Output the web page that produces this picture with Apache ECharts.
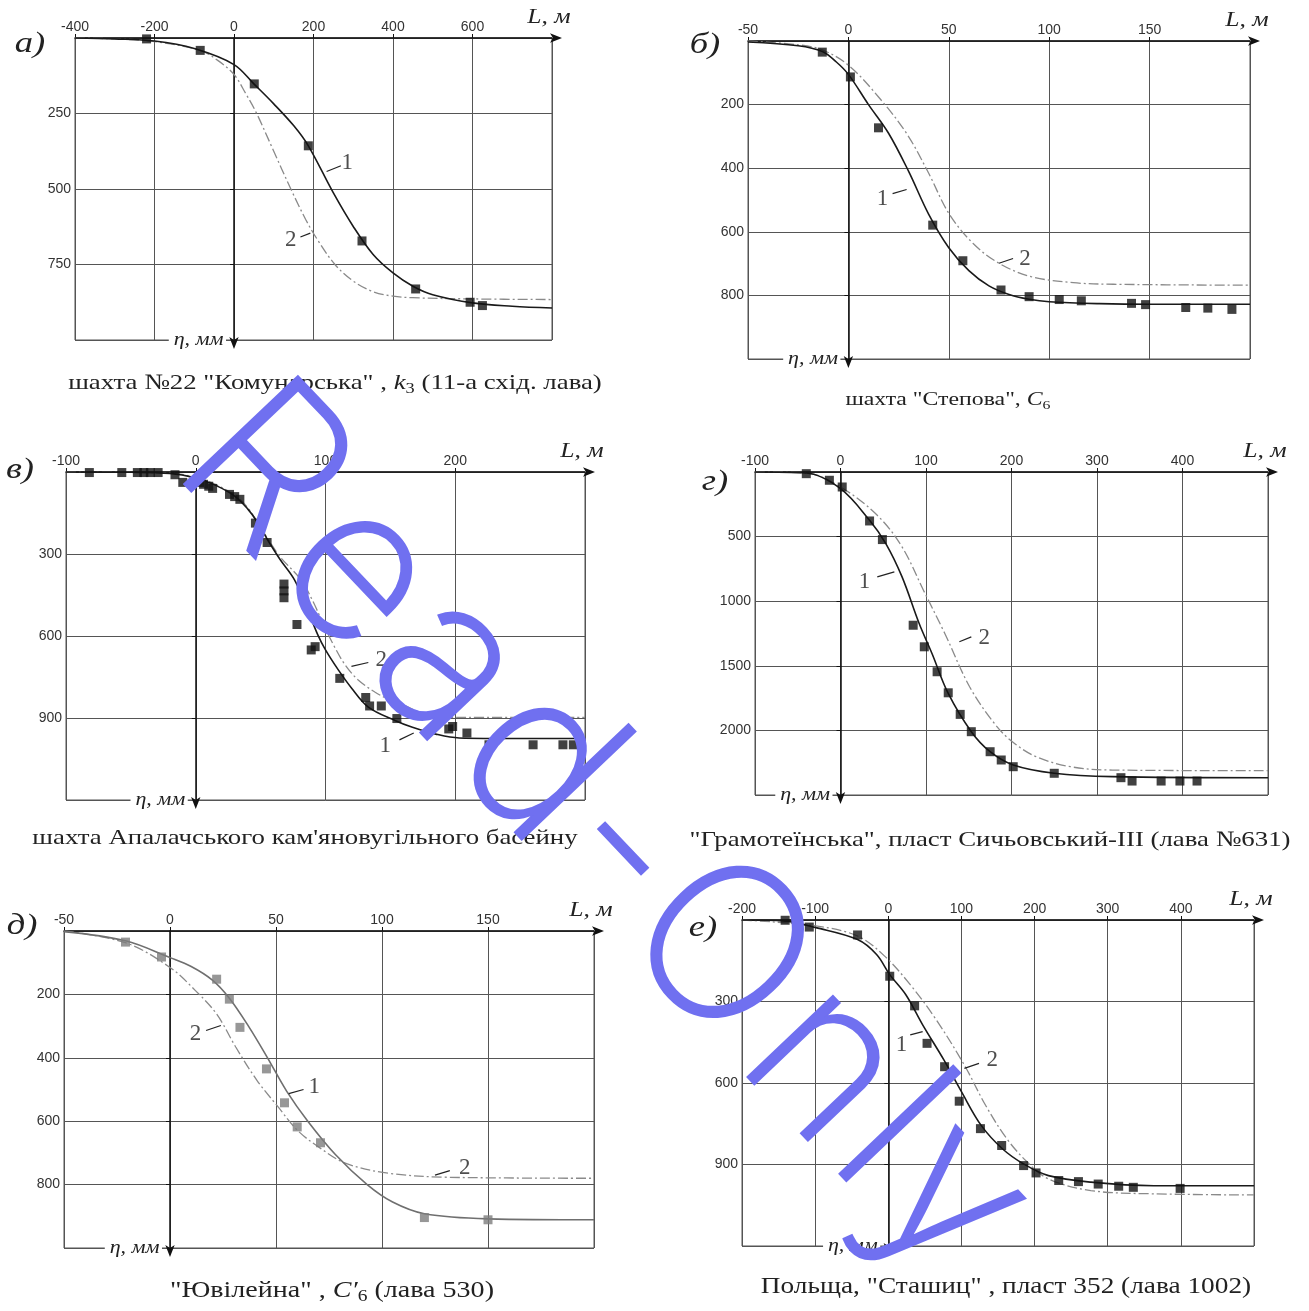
<!DOCTYPE html>
<html><head><meta charset="utf-8">
<script src="https://cdn.jsdelivr.net/npm/echarts@6/dist/echarts.min.js"></script>
<style>html,body{margin:0;padding:0;background:#fff}#c{width:1309px;height:1311px}</style>
</head><body><div id="c"></div><script>
// ---------- а) ----------
const a_xAxis = [-400, 800, 200];
const a_yAxis = [0, 1000, 250];
const a_points = [[-220,3],[-85,41],[51,152],[187,357],[322,672],[457,831],[594,875],[625,886]];
const a_curve1 = [[-400,0],[-300,3],[-200,10],[-100,35],[0,88],[50,152],[100,218],[150,290],[187,357],[250,513],[300,624],[350,717],[400,778],[450,822],[500,850],[600,877],[700,888],[800,894]];
const a_curve2 = [[-400,0],[-300,3],[-200,12],[-85,41],[-40,75],[0,121],[30,185],[57,250],[100,375],[143,500],[180,600],[210,668],[254,750],[300,805],[350,840],[400,855],[450,860],[600,864],[800,866]];
const a_notes = [[285,414,'1'],[143,670,'2']];
const a_leaders = [[[233,442],[269,423]],[[167,659],[192,646]]];
const a_caption = '{n|шахта №22 "Комунарська" , }{i|k}{s|3}{n| (11-а схід. лава)}';

// ---------- б) ----------
const b_xAxis = [-50, 200, 50];
const b_yAxis = [0, 1000, 200];
const b_points = [[-13,35],[1,113],[15,273],[42,579],[57,691],[76,783],[90,804],[105,813],[116,817],[141,825],[148,829],[168,838],[179,840],[191,844]];
const b_curve1 = [[-50,3],[-25,15],[-13,33],[-6,66],[0,105],[10,200],[20,290],[30,410],[40,545],[50,650],[60,722],[70,770],[80,797],[90,812],[100,820],[125,826],[150,828],[200,828]];
const b_curve2 = [[-50,0],[-25,12],[-13,28],[0,76],[15,176],[29,291],[40,416],[50,542],[62,636],[75,699],[91,741],[112,760],[132,765],[200,768]];
const b_notes = [[17,498,'1'],[88,684,'2']];
const b_leaders = [[[22,480],[29,467]],[[75,699],[82,684]]];
const b_caption = '{n|шахта "Степова", }{i|C}{s|6}';

// ---------- в) ----------
const c_xAxis = [-100, 300, 100];
const c_yAxis = [0, 1200, 300];
const c_points = [[-82,2],[-57,2],[-45,2],[-40,2],[-35,2],[-29,2],[-16,10],[-10,38],[3,38],[6,45],[10,52],[13,60],[26,82],[30,90],[34,100],[46,187],[55,258],[68,410],[68,435],[68,460],[78,558],[89,651],[92,639],[111,755],[131,825],[134,856],[143,856],[155,902],[195,940],[198,931],[209,955],[226,998],[260,998],[283,998],[291,998]];
const c_curve1 = [[-100,0],[-50,1],[-20,5],[0,22],[15,48],[30,88],[40,135],[47,180],[55,245],[65,320],[76,394],[85,490],[94,595],[100,651],[110,725],[120,790],[133,860],[154,910],[167,934],[185,959],[203,973],[250,975],[300,975]];
const c_curve2 = [[-100,0],[-20,4],[0,20],[15,45],[30,85],[40,130],[55,240],[65,310],[81,394],[90,470],[99,564],[107,640],[115,705],[125,760],[138,805],[150,835],[160,852],[172,878],[190,896],[210,898],[300,898]];
const c_notes = [[143,687,'2'],[146,1003,'1']];
const c_leaders = [[[120,711],[133,697]],[[157,980],[168,955]]];
const c_caption = "{n|шахта Апалачського кам'яновугільного басейну}";

// ---------- г) ----------
const d_xAxis = [-100, 500, 100];
const d_yAxis = [0, 2500, 500];
const d_points = [[-40,13],[-13,64],[2,116],[34,379],[49,523],[85,1186],[98,1353],[113,1546],[126,1709],[140,1876],[153,2010],[175,2165],[188,2229],[202,2281],[250,2332],[328,2366],[341,2392],[375,2392],[397,2392],[417,2392]];
const d_curve1 = [[-100,0],[-40,8],[0,129],[34,374],[53,554],[72,812],[92,1173],[107,1405],[126,1714],[153,2010],[175,2165],[202,2268],[250,2332],[318,2358],[500,2366]];
const d_curve2 = [[-100,0],[-40,8],[0,116],[43,335],[72,580],[97,915],[122,1250],[151,1662],[180,1946],[201,2088],[229,2204],[269,2281],[318,2307],[500,2312]];
const d_notes = [[28,850,'1'],[168,1288,'2']];
const d_leaders = [[[43,812],[63,773]],[[139,1314],[153,1276]]];
const d_caption = '{n|"Грамотеїнська", пласт Сичьовський-ІІІ (лава №631)}';

// ---------- д) ----------
const e_xAxis = [-50, 200, 50];
const e_yAxis = [0, 1000, 200];
const e_points = [[-21,35],[-4,82],[22,152],[28,215],[33,304],[45.5,435],[54,542],[60,618],[71,668],[120,904],[150,911]];
const e_curve1 = [[-50,2],[-21,31],[0,84],[10,112],[20,155],[28,212],[37,300],[46,400],[55,505],[65,600],[78,705],[93,800],[105,855],[120,892],[150,908],[200,911]];
const e_curve2 = [[-50,0],[-21,37],[0,115],[12,188],[22,262],[31,366],[41,471],[51,555],[60,628],[70,681],[83,733],[103,764],[132,777],[200,780]];
const e_notes = [[12,325,'2'],[68,492,'1'],[139,749,'2']];
const e_leaders = [[[17,314],[24,298]],[[56,513],[63,500]],[[125,770],[132,756]]];
const e_caption = '{n|"Ювілейна" , }{i|C′}{s|6}{n| (лава 530)}';

// ---------- е) ----------
const f_xAxis = [-200, 500, 100];
const f_yAxis = [0, 1200, 300];
const f_points = [[-141,1],[-108,26],[-42,55],[2,207],[36,316],[53,454],[77,540],[97,667],[126,768],[155,830],[185,904],[202,931],[233,959],[260,963],[287,972],[315,980],[335,984],[399,988]];
const f_curve1 = [[-200,0],[-141,4],[-99,28],[-42,72],[-16,127],[2,201],[24,275],[47,386],[76,515],[100,632],[127,756],[156,842],[185,898],[219,941],[277,965],[363,978],[500,978]];
const f_curve2 = [[-200,0],[-99,22],[-42,59],[-5,133],[30,238],[64,361],[104,534],[133,682],[162,805],[190,891],[219,953],[277,996],[363,1008],[500,1012]];
const f_notes = [[18,460,'1'],[142,515,'2']];
const f_leaders = [[[30,423],[47,411]],[[104,546],[124,528]]];
const f_caption = '{n|Польща, "Сташиц" , пласт 352 (лава 1002)}';

const watermark = 'Read-Only';

// ---------- layout ----------
const panels = [
  {tag:'а)', x:a_xAxis, y:a_yAxis, pts:a_points, c1:a_curve1, c2:a_curve2, notes:a_notes, leaders:a_leaders, cap:a_caption,
   g:[75,38,477,302], tagPos:[30,44], capPos:[335,383], capSize:22, gray:false},
  {tag:'б)', x:b_xAxis, y:b_yAxis, pts:b_points, c1:b_curve1, c2:b_curve2, notes:b_notes, leaders:b_leaders, cap:b_caption,
   g:[748,41,502,318], tagPos:[705,45], capPos:[948,400], capSize:19.5, gray:false},
  {tag:'в)', x:c_xAxis, y:c_yAxis, pts:c_points, c1:c_curve1, c2:c_curve2, notes:c_notes, leaders:c_leaders, cap:c_caption,
   g:[66,472,519,328], tagPos:[20,470], capPos:[305,838], capSize:22, gray:false},
  {tag:'г)', x:d_xAxis, y:d_yAxis, pts:d_points, c1:d_curve1, c2:d_curve2, notes:d_notes, leaders:d_leaders, cap:d_caption,
   g:[755,472,513,323], tagPos:[715,482], capPos:[990,840], capSize:22, gray:false},
  {tag:'д)', x:e_xAxis, y:e_yAxis, pts:e_points, c1:e_curve1, c2:e_curve2, notes:e_notes, leaders:e_leaders, cap:e_caption,
   g:[64,931,530,317], tagPos:[22,926], capPos:[332,1291], capSize:23, gray:true},
  {tag:'е)', x:f_xAxis, y:f_yAxis, pts:f_points, c1:f_curve1, c2:f_curve2, notes:f_notes, leaders:f_leaders, cap:f_caption,
   g:[742,920,512,326], tagPos:[703,928], capPos:[1006,1287], capSize:22.4, gray:false}
];

const serif = "'Liberation Serif','DejaVu Serif',serif";
const sans = "'Liberation Sans','DejaVu Sans',sans-serif";
const SX = 1.22; // horizontal stretch of the original figure's lettering
const grids = [], xAxes = [], yAxes = [], series = [], graphics = [];

panels.forEach((p, i) => {
  const [L, T, W, H] = p.g;
  grids.push({left:L, top:T, width:W, height:H, show:true, borderColor:'#555', borderWidth:1, backgroundColor:'transparent'});
  const axisLabel = {fontFamily:sans, fontSize:14, color:'#333', margin:4, formatter:(v)=>String(v)};
  xAxes.push({gridIndex:i, type:'value', position:'top', min:p.x[0], max:p.x[1], interval:p.x[2],
    axisLine:{show:true, onZero:true, lineStyle:{color:'#111', width:1.5}, symbol:['none','arrow'], symbolSize:[7,12], symbolOffset:[0,10]},
    axisTick:{show:true, length:4, lineStyle:{color:'#111'}},
    axisLabel:Object.assign({showMaxLabel:false, showMinLabel:true}, axisLabel),
    splitLine:{show:true, lineStyle:{color:'#555', width:1}}});
  yAxes.push({gridIndex:i, type:'value', inverse:true, min:p.y[0], max:p.y[1], interval:p.y[2],
    axisLine:{show:true, onZero:true, lineStyle:{color:'#111', width:1.5}, symbol:['arrow','none'], symbolSize:[7,12], symbolOffset:[-9,0]},
    axisTick:{show:true, length:4, lineStyle:{color:'#111'}},
    axisLabel:Object.assign({showMaxLabel:false, showMinLabel:false}, axisLabel),
    splitLine:{show:true, lineStyle:{color:'#555', width:1}}});
  const lineCol = p.gray ? '#6f6f6f' : '#1a1a1a';
  const ptCol = p.gray ? '#7d7d7d' : '#111';
  series.push({type:'line', xAxisIndex:i, yAxisIndex:i, data:p.c2, smooth:0.35, symbol:'none',
    lineStyle:{color:'#8a8a8a', width:1.3, type:[10,3,2,3]}, silent:true, z:2});
  series.push({type:'line', xAxisIndex:i, yAxisIndex:i, data:p.c1, smooth:0.35, symbol:'none',
    lineStyle:{color:lineCol, width:1.6}, silent:true, z:3});
  series.push({type:'scatter', xAxisIndex:i, yAxisIndex:i, data:p.pts, symbol:'rect', symbolSize:9,
    itemStyle:{color:ptCol}, silent:true, z:4});
  series.push({type:'scatter', xAxisIndex:i, yAxisIndex:i, data:p.notes, symbolSize:0, silent:true, z:5,
    label:{show:true, position:'inside', formatter:(q)=>q.value[2], fontFamily:serif, fontSize:23, color:'#222'}});
  p.leaders.forEach(ld => {
    series.push({type:'line', xAxisIndex:i, yAxisIndex:i, data:ld, symbol:'none', silent:true, z:5,
      lineStyle:{color:'#222', width:1.2}});
  });
  const zeroX = L + (0 - p.x[0]) / (p.x[1] - p.x[0]) * W;
  graphics.push({type:'text', x:zeroX - 8, y:T + H, z:10, scaleX:SX,
    style:{text:'η, мм', fontFamily:serif, fontStyle:'italic', fontSize:18, fill:'#222', align:'right', verticalAlign:'middle', backgroundColor:'#fff', padding:[0,2,0,4]}});
  graphics.push({type:'text', x:L + W - 3, y:T - 21, z:10, scaleX:SX,
    style:{text:'L, м', fontFamily:serif, fontStyle:'italic', fontSize:21, fill:'#222', align:'center', verticalAlign:'middle'}});
  graphics.push({type:'text', x:p.tagPos[0], y:p.tagPos[1], z:10, scaleX:SX,
    style:{text:p.tag, fontFamily:serif, fontStyle:'italic', fontSize:30, fill:'#222', align:'center', verticalAlign:'middle'}});
  const cs = p.capSize;
  graphics.push({type:'text', x:p.capPos[0], y:p.capPos[1], z:10, scaleX:SX,
    style:{text:p.cap, align:'center', verticalAlign:'middle', fill:'#222',
      rich:{n:{fontFamily:serif, fontSize:cs, color:'#222'},
            i:{fontFamily:serif, fontStyle:'italic', fontSize:cs, color:'#222'},
            s:{fontFamily:serif, fontSize:Math.round(cs*0.68), color:'#222', padding:[12,0,0,0]}}}});
});

// watermark: letters spread along a diagonal
(function(){
  const wmFont = "200 215px Inter, 'DejaVu Sans', sans-serif";
  const ctx = document.createElement('canvas').getContext('2d');
  ctx.font = wmFont;
  const chars = watermark.split('');
  const widths = chars.map(ch => ctx.measureText(ch).width);
  const centers = []; let acc = 0;
  widths.forEach(w => { centers.push(acc + w / 2); acc += w; });
  const start = [262, 472], end = [952, 1198];
  const ang = Math.atan2(end[1] - start[1], end[0] - start[0]);
  chars.forEach((ch, k) => {
    const t = (centers[k] - centers[0]) / (centers[centers.length - 1] - centers[0]);
    graphics.push({type:'text', x:start[0] + t * (end[0] - start[0]), y:start[1] + t * (end[1] - start[1]),
      rotation:-ang, z:100,
      style:{text:ch, fontFamily:"Inter,'DejaVu Sans',sans-serif", fontWeight:200, fontSize:215,
        fill:'#7070f0', stroke:'#7070f0', lineWidth:2.5, lineJoin:'round', align:'center', verticalAlign:'middle'}});
  });
})();

const chart = echarts.init(document.getElementById('c'), null, {renderer:'canvas'});
chart.setOption({animation:false, backgroundColor:'#fff', grid:grids, xAxis:xAxes, yAxis:yAxes, series:series, graphic:graphics});
</script></body></html>
